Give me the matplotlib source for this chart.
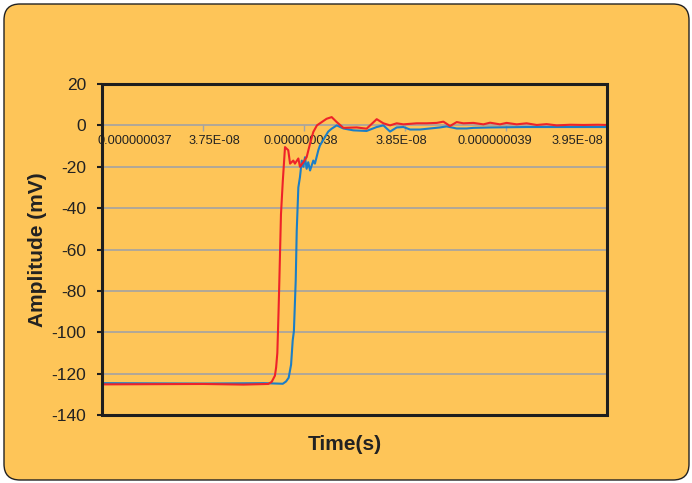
"""Step response of two channels, Excel-style amplitude vs time chart."""

import matplotlib.pyplot as plt
import numpy as np
from matplotlib.patches import FancyBboxPatch, Rectangle
from matplotlib.transforms import ScaledTranslation

BG = "#fec558"
RED = "#ee2229"
BLUE = "#1b7ec6"
GRID = "#a3a3a3"

# red trace: time (ns), amplitude (mV)
RED_T = [37.000, 37.500, 37.700, 37.823, 37.840, 37.856, 37.862, 37.868, 37.874,
         37.878, 37.886, 37.895, 37.906, 37.922, 37.931, 37.947, 37.955, 37.972,
         37.980, 37.997, 38.013, 38.030, 38.046, 38.064, 38.088, 38.112, 38.137,
         38.162, 38.195, 38.261, 38.310, 38.360, 38.393, 38.426, 38.459, 38.492,
         38.558, 38.607, 38.657, 38.690, 38.723, 38.756, 38.789, 38.838, 38.888,
         38.921, 38.970, 39.003, 39.053, 39.102, 39.152, 39.201, 39.251, 39.317,
         39.383, 39.455, 39.500]
RED_MV = [-125.2, -125.0, -125.3, -125.0, -124.0, -121.0, -117.0, -110.0, -90.0,
          -75.0, -43.0, -27.0, -10.5, -12.0, -18.5, -17.0, -18.5, -16.0,
          -20.0, -17.8, -15.4, -8.8, -3.2, 0.0, 1.6, 3.2, 4.0,
          1.6, -1.2, -1.0, -1.6, 3.0, 1.0, 0.0, 1.0, 0.5,
          1.0, 1.0, 1.2, 1.8, -0.3, 1.6, 1.0, 1.2, 0.5,
          1.3, 0.5, 1.2, 0.5, 1.0, 0.2, 0.6, 0.0, 0.3,
          0.2, 0.3, 0.2]

# blue trace
BLUE_T = [37.000, 37.500, 37.800, 37.895, 37.911, 37.924, 37.936, 37.944, 37.950,
          37.959, 37.964, 37.972, 37.980, 37.989, 37.997, 38.005, 38.013, 38.021,
          38.030, 38.046, 38.054, 38.071, 38.079, 38.120, 38.137, 38.162, 38.195,
          38.244, 38.310, 38.360, 38.393, 38.426, 38.459, 38.492, 38.525, 38.574,
          38.624, 38.673, 38.706, 38.756, 38.805, 38.838, 38.921, 39.100, 39.300,
          39.500]
BLUE_MV = [-124.6, -124.8, -124.6, -124.9, -123.8, -122.0, -115.7, -104.0, -99.5,
           -75.0, -51.0, -30.0, -25.0, -17.0, -20.0, -15.4, -21.0, -17.8,
           -21.8, -17.0, -18.5, -12.0, -9.7, -3.0, -1.6, 0.0, -1.5,
           -2.4, -2.7, -0.8, 0.0, -3.0, -1.0, -0.8, -2.0, -2.0,
           -1.5, -1.0, -0.5, -1.5, -1.5, -1.2, -1.0, -0.8, -0.8,
           -0.8]

X_TICKS = [3.70e-8, 3.75e-8, 3.80e-8, 3.85e-8, 3.90e-8, 3.95e-8]
X_LABELS = ["0.000000037", "3.75E-08", "0.000000038", "3.85E-08",
            "0.000000039", "3.95E-08"]
# Excel squeezes the labels inside the plot area; shift in pixels
X_LABEL_SHIFT = [33, 11, -3, -4, -11, -30]
Y_TICKS = list(range(-140, 21, 20))

plt.rcParams["font.family"] = ["Liberation Sans", "DejaVu Sans"]
plt.rcParams["axes.unicode_minus"] = False

fig = plt.figure(figsize=(6.92, 4.83), dpi=100, facecolor="white")
fig.patches.append(FancyBboxPatch(
    (0.04, 0.03), 6.85, 4.76, boxstyle="round,pad=0,rounding_size=0.16",
    transform=fig.dpi_scale_trans, facecolor=BG, edgecolor="#222222",
    linewidth=1.0, zorder=-5))

ax = fig.add_axes([102 / 692, 1 - 415 / 483, 505 / 692, 331 / 483])
ax.set_facecolor("none")

for y in Y_TICKS[1:-2]:
    ax.axhline(y, color=GRID, linewidth=1.2, zorder=1)

ax.plot(np.array(BLUE_T) * 1e-9, BLUE_MV, color=BLUE, linewidth=1.5, zorder=3)
ax.plot(np.array(RED_T) * 1e-9, RED_MV, color=RED, linewidth=1.5, zorder=3)

ax.set_xlim(3.70e-8, 3.95e-8)
ax.set_ylim(-140, 20)

# x axis crosses at zero, Excel style
ax.spines["bottom"].set_position(("data", 0))
ax.spines["bottom"].set_color(GRID)
ax.spines["bottom"].set_linewidth(1.2)
for side in ("left", "right", "top"):
    ax.spines[side].set_visible(False)
ax.add_patch(Rectangle((0, 0), 1, 1, transform=ax.transAxes, fill=False,
                       edgecolor="#1e1e1e", linewidth=2.2, clip_on=False,
                       zorder=5))

ax.set_xticks(X_TICKS, X_LABELS)
ax.tick_params(axis="x", direction="out", length=4, width=1, color=GRID,
               labelsize=9.2, labelcolor="#222222", pad=3)
for lab, dx in zip(ax.get_xticklabels(), X_LABEL_SHIFT):
    lab.set_transform(lab.get_transform()
                      + ScaledTranslation(dx / 100, 0, fig.dpi_scale_trans))

ax.set_yticks(Y_TICKS)
ax.tick_params(axis="y", direction="out", length=3.6, width=1.5,
               color="#1e1e1e", labelsize=12.5, labelcolor="#222222", pad=8)

ax.set_ylabel("Amplitude (mV)", fontsize=15, fontweight="bold",
              color="#222222", labelpad=3)
fig.text(345 / 692, 1 - 445 / 483, "Time(s)", fontsize=15, fontweight="bold",
         color="#222222", ha="center", va="center")

fig.savefig("out.png", dpi=100, facecolor="white")
